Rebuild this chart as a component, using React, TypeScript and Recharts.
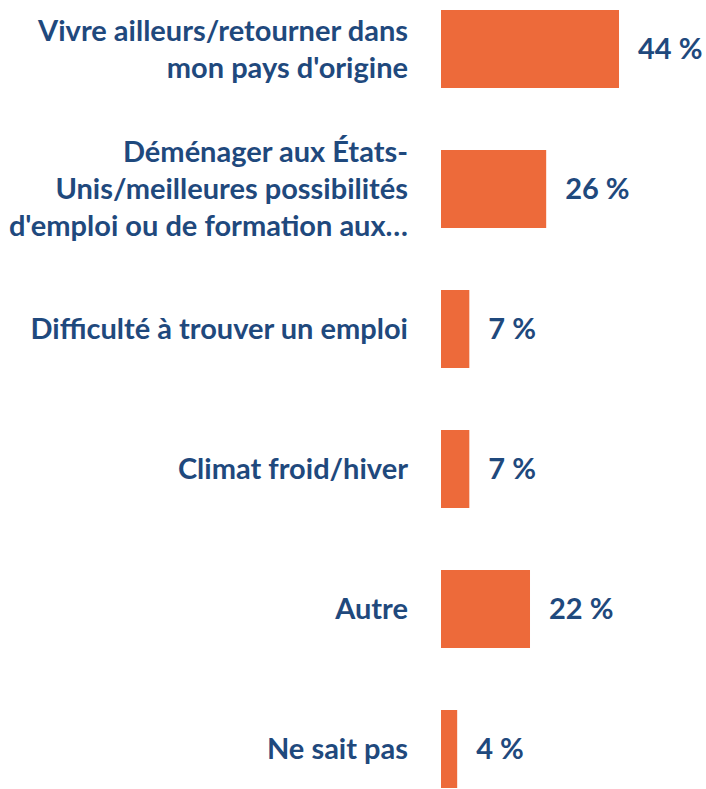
import { BarChart, Bar, XAxis, YAxis, LabelList } from "recharts";

const categories = [
  "Vivre ailleurs/retourner dans\nmon pays d'origine",
  "Déménager aux États-\nUnis/meilleures possibilités\nd'emploi ou de formation aux…",
  "Difficulté à trouver un emploi",
  "Climat froid/hiver",
  "Autre",
  "Ne sait pas",
];
const values = [44, 26, 7, 7, 22, 4];

const data = categories.map((name, i) => ({ name, value: values[i] }));

const BLUE = "#1F497D";
const ORANGE = "#ED6A3A";
const FONT = "Lato, 'Open Sans', sans-serif";

function CategoryTick(props: any) {
  const { x, y, payload } = props;
  const lines = String(payload.value).split("\n");
  const lh = 37;
  return (
    <text
      x={x}
      y={y}
      textAnchor="end"
      fill={BLUE}
      fontFamily={FONT}
      fontWeight="bold"
      fontSize={29}
    >
      {lines.map((line, i) => (
        <tspan
          key={i}
          x={x}
          dy={i === 0 ? -((lines.length - 1) / 2) * lh + 10 : lh}
        >
          {line}
        </tspan>
      ))}
    </text>
  );
}

export default function App() {
  return (
    <div
      style={{
        position: "absolute",
        left: 0,
        top: 0,
        width: 706,
        height: 789,
        overflow: "hidden",
        background: "#fff",
      }}
    >
      <div style={{ position: "absolute", top: -21, left: 0 }}>
        <BarChart
          width={706}
          height={840}
          data={data}
          layout="vertical"
          margin={{ top: 0, right: 0, bottom: 0, left: 0 }}
          barSize={78}
        >
          <XAxis type="number" domain={[0, 65.5]} hide />
          <YAxis
            type="category"
            dataKey="name"
            width={441}
            axisLine={false}
            tickLine={false}
            tickSize={0}
            tickMargin={33}
            tick={<CategoryTick />}
            interval={0}
          />
          <Bar dataKey="value" fill={ORANGE} isAnimationActive={false}>
            <LabelList
              dataKey="value"
              position="right"
              offset={19}
              formatter={(v: any) => `${v} %`}
              fill={BLUE}
              fontFamily={FONT}
              fontWeight="bold"
              fontSize={29}
            />
          </Bar>
        </BarChart>
      </div>
    </div>
  );
}
